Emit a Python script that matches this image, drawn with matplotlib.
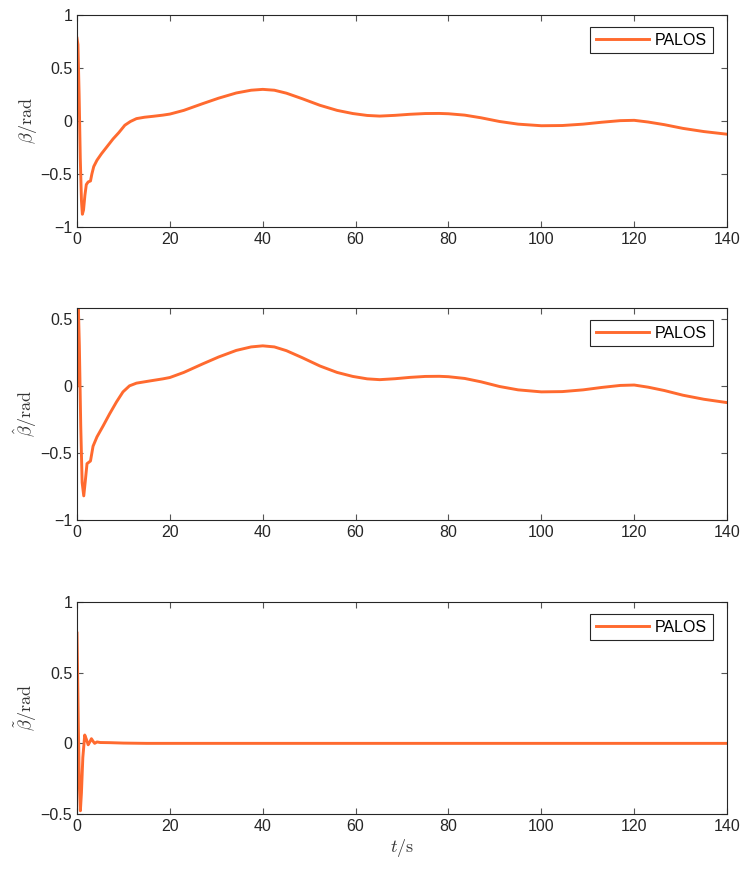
'''
attitude estimation plot: beta, beta hat and beta error over time
'''
import matplotlib
matplotlib.use('Agg')
import matplotlib.pyplot as plt

# time samples (s)
t_beta = [0, 0.2, 0.45, 0.7, 0.95, 1.15, 1.4, 1.7, 2.0, 2.4, 2.9, 3.2, 3.6, 4.3, 5.25, 6.5,
          7.75, 9.0, 10.3, 11.5, 12.8, 14.5, 16.4, 18.5, 20, 23, 27.1, 30.5, 34.3, 37.5,
          40, 42.5, 45.1, 48.5, 52.3, 56, 59.4, 62.5, 65.2, 68.5, 71.7, 75, 78, 80,
          83.5, 87, 91, 95, 100, 104.5, 109, 113, 117, 120, 123, 126.5, 130.5, 135, 140]
beta = [0.78, 0.72, 0.25, -0.35, -0.75, -0.88, -0.84, -0.7, -0.6, -0.575, -0.566, -0.5,
        -0.43, -0.37, -0.31, -0.24, -0.17, -0.11, -0.04, -0.005, 0.022, 0.035, 0.044,
        0.055, 0.065, 0.1, 0.164, 0.215, 0.264, 0.29, 0.298, 0.29, 0.262, 0.21, 0.148,
        0.1, 0.07, 0.052, 0.046, 0.053, 0.063, 0.07, 0.071, 0.068, 0.055, 0.03, -0.005,
        -0.03, -0.045, -0.043, -0.03, -0.012, 0.003, 0.006, -0.01, -0.035, -0.07, -0.1, -0.125]

t_beta_hat = [0, 0.15, 0.3, 0.5, 0.8, 1.1, 1.45, 1.75, 2.15, 2.9, 3.45, 4.3, 5.6, 7.0,
              8.5, 9.9, 11.3, 12.8, 15.6, 18.5, 20, 23, 27.1, 30.5, 34.3, 37.5,
              40, 42.5, 45.1, 48.5, 52.3, 56, 59.4, 62.5, 65.2, 68.5, 71.7, 75, 78, 80,
              83.5, 87, 91, 95, 100, 104.5, 109, 113, 117, 120, 123, 126.5, 130.5, 135, 140]
beta_hat = [0.0, 0.45, 0.57, 0.3, -0.3, -0.72, -0.82, -0.72, -0.58, -0.56, -0.45, -0.38,
            -0.3, -0.21, -0.12, -0.045, 0.0, 0.02, 0.036, 0.052, 0.062, 0.1, 0.164, 0.215,
            0.264, 0.29, 0.298, 0.29, 0.262, 0.21, 0.148, 0.1, 0.07, 0.052, 0.046, 0.053,
            0.063, 0.07, 0.071, 0.068, 0.055, 0.03, -0.005, -0.03, -0.045, -0.043, -0.03,
            -0.012, 0.003, 0.006, -0.01, -0.035, -0.07, -0.1, -0.125]

t_err = [0, 0.1, 0.3, 0.5, 0.72, 0.95, 1.25, 1.66, 2.0, 2.4, 2.75, 3.1, 3.45, 3.8, 4.3,
         5.0, 7.0, 10, 15, 140]
beta_err = [0.78, 0.55, 0.1, -0.3, -0.477, -0.35, -0.1, 0.059, 0.03, -0.01, 0.01, 0.033,
            0.015, 0.0, 0.01, 0.006, 0.005, 0.002, 0.0, 0.0]

line_color = '#FF6A2F'
axis_color = '#262626'

plt.rcParams['font.family'] = ['Liberation Sans', 'DejaVu Sans']
plt.rcParams['mathtext.fontset'] = 'cm'
plt.rcParams['font.size'] = 11.5

fig = plt.figure(figsize=(7.5, 8.74), dpi=100)

panels = [
    (t_beta, beta, r'$\beta/\mathrm{rad}$', (-1, 1), [-1, -0.5, 0, 0.5, 1], 0.7403),
    (t_beta_hat, beta_hat, r'$\hat{\beta}/\mathrm{rad}$', (-1, 0.58), [-1, -0.5, 0, 0.5], 0.4050),
    (t_err, beta_err, r'$\tilde{\beta}/\mathrm{rad}$', (-0.5, 1), [-0.5, 0, 0.5, 1], 0.0686),
]

for i, (tt, yy, label, ylim, yticks, bottom) in enumerate(panels):
    ax = fig.add_axes([0.1027, bottom, 0.8667, 0.2426])
    ax.plot(tt, yy, color=line_color, lw=2.1, label='PALOS')
    ax.set_xlim(0, 140)
    ax.set_ylim(*ylim)
    ax.set_xticks(range(0, 141, 20))
    ax.set_yticks(yticks)
    ax.set_yticklabels(['\u22121' if v == -1 else '\u22120.5' if v == -0.5 else
                        '0' if v == 0 else ('%g' % v) for v in yticks])
    ax.tick_params(direction='in', top=True, right=True, length=4, width=0.8,
                   color='#555555', labelcolor=axis_color, labelsize=11.5)
    for sp in ax.spines.values():
        sp.set_color(axis_color)
        sp.set_linewidth(0.8)
    ax.set_ylabel(label, fontsize=13, color='#333333', labelpad=1)
    leg = ax.legend(loc='upper right', fancybox=False, framealpha=1, handlelength=3.3,
                    handletextpad=0.4, borderpad=0.35, borderaxespad=0,
                    bbox_to_anchor=(0.978, 0.943))
    leg.get_frame().set_edgecolor(axis_color)
    leg.get_frame().set_linewidth(0.8)
    if i == 2:
        ax.set_xlabel(r'$t/\mathrm{s}$', fontsize=13, color='#333333', labelpad=2)

fig.savefig('out.png', dpi=100)
